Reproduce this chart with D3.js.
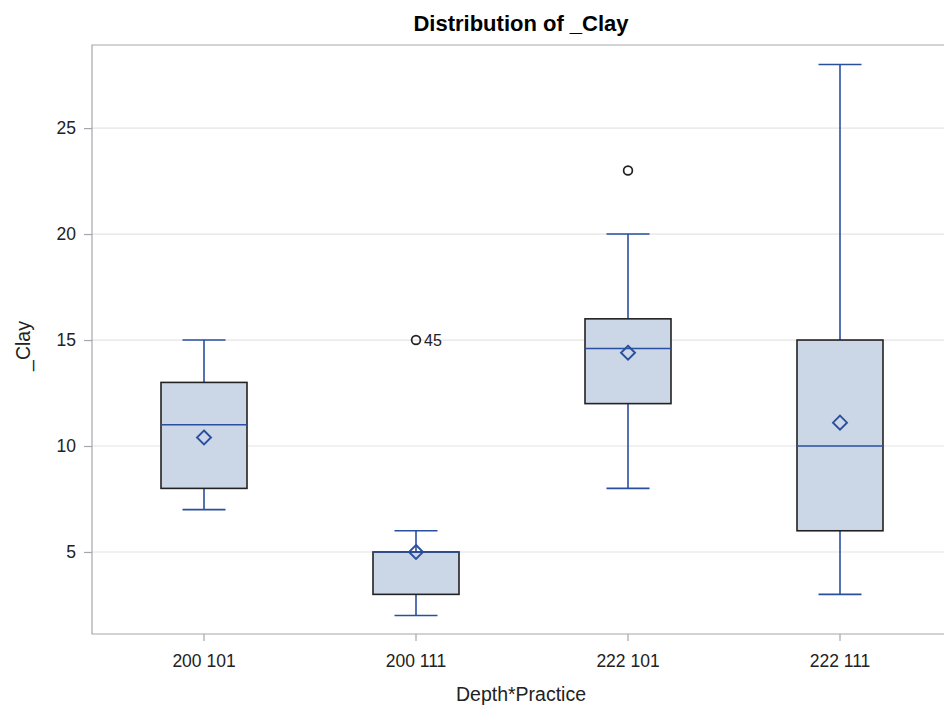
<!DOCTYPE html>
<html>
<head>
<meta charset="utf-8">
<script src="https://cdn.jsdelivr.net/npm/d3@7"></script>
<style>
  html, body { margin: 0; padding: 0; background: #fff; }
  svg { display: block; font-family: "Liberation Sans", Arial, sans-serif; }
</style>
</head>
<body>
<svg id="chart" width="944" height="708"></svg>
<script>
// Box plot summaries of _Clay by Depth*Practice
const categories = ["200 101", "200 111", "222 101", "222 111"];
const whiskerLow  = [7, 2, 8, 3];
const q1          = [8, 3, 12, 6];
const median      = [11, 5, 14.6, 10];
const q3          = [13, 5, 16, 15];
const whiskerHigh = [15, 6, 20, 28];
const means       = [10.4, 5, 14.4, 11.1];
const outliers = [
  { cat: "200 111", value: 15, label: "45" },
  { cat: "222 101", value: 23, label: "" }
];
const yTicks = [5, 10, 15, 20, 25];

const svg = d3.select("#chart");
const plotL = 92, plotR = 960, plotT = 45, plotB = 634;
const fontFam = "Liberation Sans, Arial, sans-serif";

const x = d3.scaleBand().domain(categories).range([98, 946]);
const y = d3.scaleLinear().domain([1.13, 28.92]).range([plotB, plotT]);

const blue = "#2a4f9f";
const boxW = 86, capW = 43;

// gridlines
svg.append("g").selectAll("line").data(yTicks).join("line")
  .attr("x1", plotL).attr("x2", plotR)
  .attr("y1", d => y(d)).attr("y2", d => y(d))
  .attr("stroke", "#e4e4e4").attr("stroke-width", 1.2);

// frame (left, top, bottom)
svg.append("path")
  .attr("d", `M${plotR},${plotT}H${plotL}V${plotB}H${plotR}`)
  .attr("fill", "none").attr("stroke", "#a3a7ab").attr("stroke-width", 1.2);

// y axis
const yAxis = svg.append("g").attr("transform", `translate(${plotL},0)`)
  .call(d3.axisLeft(y).tickValues(yTicks).tickSize(8).tickPadding(8));
yAxis.select(".domain").remove();
yAxis.selectAll(".tick line").attr("stroke", "#a3a7ab").attr("stroke-width", 1.2);
yAxis.selectAll(".tick text").attr("font-size", 17.5).attr("fill", "#222")
  .attr("font-family", fontFam);

// x axis
const xAxis = svg.append("g").attr("transform", `translate(0,${plotB})`)
  .call(d3.axisBottom(x).tickSize(7).tickPadding(14));
xAxis.select(".domain").remove();
xAxis.selectAll(".tick line").attr("stroke", "#a3a7ab").attr("stroke-width", 1.2);
xAxis.selectAll(".tick text").attr("font-size", 17.5).attr("fill", "#222")
  .attr("font-family", fontFam);

const cx = c => x(c) + x.bandwidth() / 2;

const boxes = categories.map((c, i) => ({
  c, lo: whiskerLow[i], q1: q1[i], med: median[i], q3: q3[i], hi: whiskerHigh[i], mean: means[i]
}));

const g = svg.append("g");
boxes.forEach(b => {
  const X = cx(b.c);
  // whiskers
  g.append("line").attr("x1", X).attr("x2", X).attr("y1", y(b.hi)).attr("y2", y(b.q3))
    .attr("stroke", blue).attr("stroke-width", 1.6);
  g.append("line").attr("x1", X).attr("x2", X).attr("y1", y(b.q1)).attr("y2", y(b.lo))
    .attr("stroke", blue).attr("stroke-width", 1.6);
  g.append("line").attr("x1", X - capW / 2).attr("x2", X + capW / 2).attr("y1", y(b.hi)).attr("y2", y(b.hi))
    .attr("stroke", blue).attr("stroke-width", 1.6);
  g.append("line").attr("x1", X - capW / 2).attr("x2", X + capW / 2).attr("y1", y(b.lo)).attr("y2", y(b.lo))
    .attr("stroke", blue).attr("stroke-width", 1.6);
  // box
  g.append("rect").attr("x", X - boxW / 2).attr("width", boxW)
    .attr("y", y(b.q3)).attr("height", y(b.q1) - y(b.q3))
    .attr("fill", "#cbd6e6").attr("stroke", "#222").attr("stroke-width", 1.6);
  // median
  g.append("line").attr("x1", X - boxW / 2).attr("x2", X + boxW / 2).attr("y1", y(b.med)).attr("y2", y(b.med))
    .attr("stroke", blue).attr("stroke-width", 1.6);
  // mean diamond
  const r = 7, my = y(b.mean);
  g.append("path").attr("d", `M${X},${my - r}L${X + r},${my}L${X},${my + r}L${X - r},${my}Z`)
    .attr("fill", "none").attr("stroke", blue).attr("stroke-width", 1.9);
});

// outliers
outliers.forEach(o => {
  const X = cx(o.cat), Y = y(o.value);
  g.append("circle").attr("cx", X).attr("cy", Y).attr("r", 4.4)
    .attr("fill", "none").attr("stroke", "#222").attr("stroke-width", 1.7);
  if (o.label) {
    g.append("text").attr("x", X + 8).attr("y", Y).attr("dy", "0.36em")
      .attr("font-size", 16).attr("fill", "#222").text(o.label);
  }
});

// titles
svg.append("text").attr("x", 521).attr("y", 31).attr("text-anchor", "middle")
  .attr("font-size", 22).attr("font-weight", "bold").attr("fill", "#000")
  .text("Distribution of _Clay");
svg.append("text").attr("x", 521).attr("y", 701).attr("text-anchor", "middle")
  .attr("font-size", 19.5).attr("fill", "#222").text("Depth*Practice");
svg.append("text").attr("transform", `translate(30,346) rotate(-90)`).attr("text-anchor", "middle")
  .attr("font-size", 19.5).attr("fill", "#222").text("_Clay");
</script>
</body>
</html>
